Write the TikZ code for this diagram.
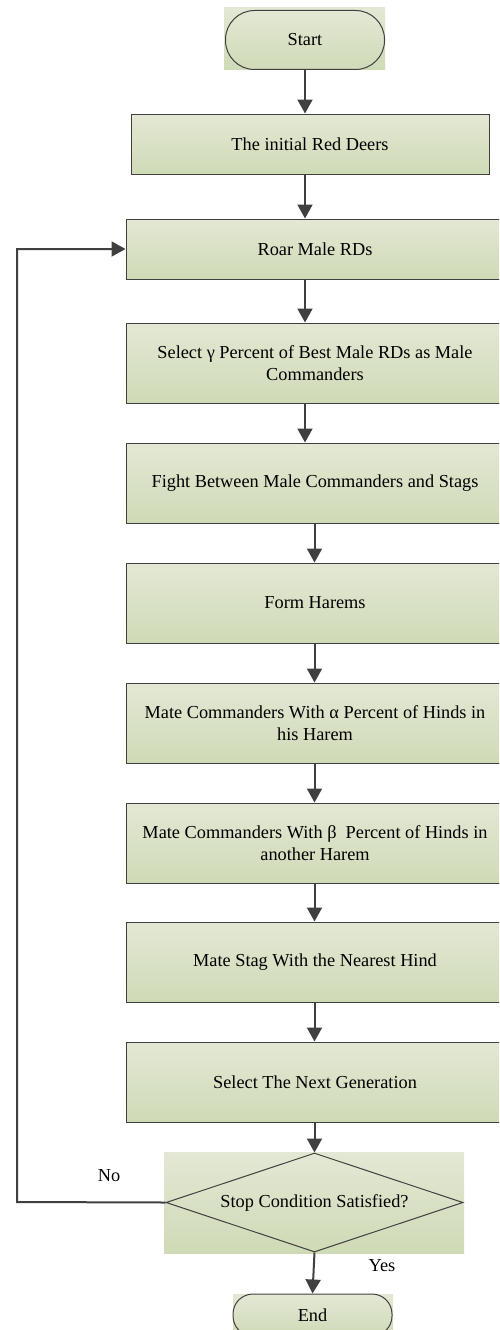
\documentclass[tikz,border=0pt]{standalone}
\usepackage{fontspec}
\setmainfont{Liberation Serif}
\newfontfamily\tnr{Liberation Serif}
\usetikzlibrary{arrows.meta,shapes.geometric}
\definecolor{gtop}{RGB}{227,232,212}
\definecolor{gbot}{RGB}{207,218,182}
\definecolor{edge}{RGB}{64,64,64}
\tikzset{
  grad/.style={top color=gtop,bottom color=gbot,shading=axis},
  box/.style={grad,draw=edge,line width=1pt,rectangle,inner sep=0pt,align=center,font=\tnr\fontsize{18.3}{22}\selectfont,text=black},
  term/.style={box,rounded corners=#1},
  dec/.style={box,diamond,shape aspect=3},
  arr/.style={draw=edge,line width=2pt,-{Triangle[width=15pt,length=14pt]}},
  lab/.style={font=\tnr\fontsize{18.3}{22}\selectfont,inner sep=0pt}
}
\begin{document}
\begin{tikzpicture}[x=1pt,y=-1pt]
\useasboundingbox (0,0) rectangle (499,1330);
\clip (0,0) rectangle (499,1330);
% backgrounds of terminals and decision
\fill[grad] (224,8) rectangle (385,70);
\fill[grad] (164,1152) rectangle (464,1253);
\fill[grad] (233,1294) rectangle (393,1340);
\node[term=29pt,minimum width=159pt,minimum height=59pt] (start) at (305,40) {Start};
\node[box,minimum width=358pt,minimum height=60pt] (init) at (310,144) {The initial Red Deers};
\node[box,minimum width=378pt,minimum height=60pt] (roar) at (315,249) {Roar Male RDs};
\node[box,minimum width=378pt,minimum height=80pt] (sel) at (315,363) {Select γ Percent of Best Male RDs as Male\\Commanders};
\node[box,minimum width=378pt,minimum height=80pt] (fight) at (315,483) {Fight Between Male Commanders and Stags};
\node[box,minimum width=378pt,minimum height=80pt] (form) at (315,603) {Form Harems};
\node[box,minimum width=378pt,minimum height=80pt] (matea) at (315,723) {Mate Commanders With α Percent of Hinds in\\his Harem};
\node[box,minimum width=378pt,minimum height=80pt] (mateb) at (315,843) {Mate Commanders With β\ \ Percent of Hinds in\\another Harem};
\node[box,minimum width=378pt,minimum height=80pt] (stag) at (315,962) {Mate Stag With the Nearest Hind};
\node[box,minimum width=378pt,minimum height=80pt] (next) at (315,1082) {Select The Next Generation};
\node[dec,minimum width=297pt,minimum height=99pt] (stop) at (314.5,1202.5) {Stop Condition Satisfied?};
\node[term=20pt,minimum width=159pt,minimum height=42pt] (end) at (312.5,1315) {End};
\coordinate (fb) at (17,1202);
% connectors
\draw[arr] (start.south) -- (start.south |- init.north);
\draw[arr] (init.south -| start.south) -- (roar.north -| start.south);
\draw[arr] (roar.south -| start.south) -- (sel.north -| start.south);
\draw[arr] (sel.south -| start.south) -- (fight.north -| start.south);
\draw[arr] (fight.south -| stop.north) -- (form.north -| stop.north);
\draw[arr] (form.south -| stop.north) -- (matea.north -| stop.north);
\draw[arr] (matea.south -| stop.north) -- (mateb.north -| stop.north);
\draw[arr] (mateb.south -| stop.north) -- (stag.north -| stop.north);
\draw[arr] (stag.south -| stop.north) -- (next.north -| stop.north);
\draw[arr] (next.south -| stop.north) -- (stop.north);
\draw[arr] (stop.south) -- (end.north);
\draw[arr] (stop.west) -- (fb) |- (roar.west);
\node[lab] (no) at (109,1176) {No};
\node[lab] (yes) at (382,1266) {Yes};
\end{tikzpicture}
\end{document}
